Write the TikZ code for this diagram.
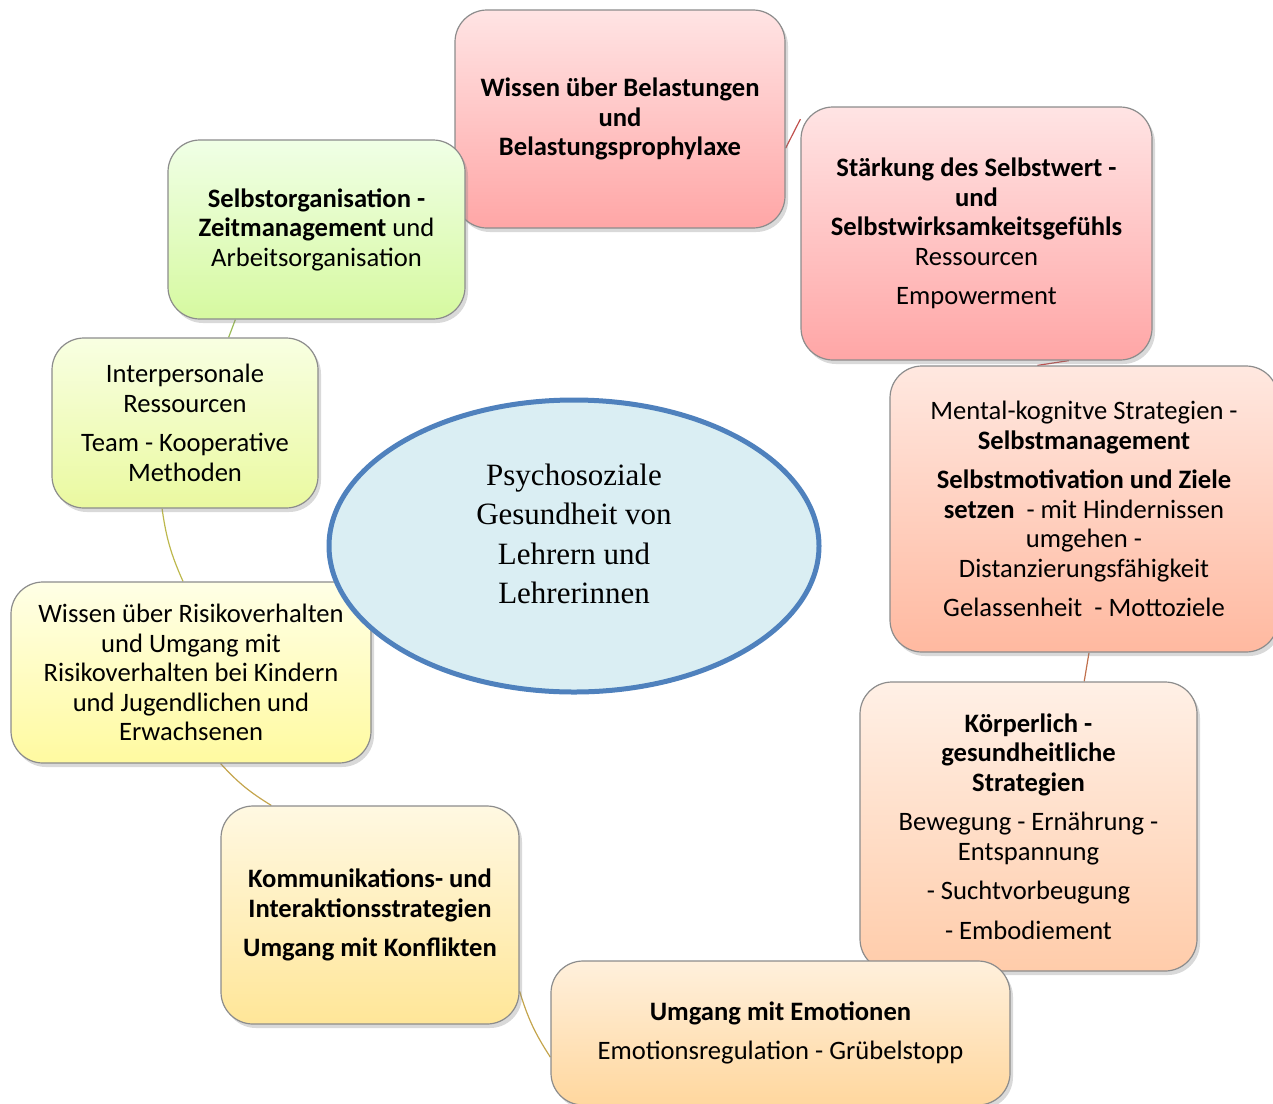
\documentclass[tikz,border=0pt]{standalone}
\usepackage{fontspec}
\setmainfont{Carlito}
\newfontfamily\centrefont{Liberation Serif}
\usetikzlibrary{positioning, shapes.geometric, shadows, backgrounds}

\definecolor{boxline}{HTML}{8C8C8C}
\definecolor{pinktop}{HTML}{FFE4E4}
\definecolor{pinkbot}{HTML}{FFA6A6}
\definecolor{salmtop}{HTML}{FFE8E0}
\definecolor{salmbot}{HTML}{FFB9A0}
\definecolor{peachtop}{HTML}{FFF0E6}
\definecolor{peachbot}{HTML}{FFCCAA}
\definecolor{oratop}{HTML}{FFF0DC}
\definecolor{orabot}{HTML}{FFD79E}
\definecolor{goldtop}{HTML}{FFF8E2}
\definecolor{goldbot}{HTML}{FFE698}
\definecolor{yeltop}{HTML}{FFFFE6}
\definecolor{yelbot}{HTML}{FFFAA0}
\definecolor{limetop}{HTML}{F8FFE2}
\definecolor{limebot}{HTML}{EAF9A0}
\definecolor{greentop}{HTML}{F0FFE6}
\definecolor{greenbot}{HTML}{D6F9A0}
\definecolor{ellfill}{HTML}{DAEEF3}
\definecolor{ellline}{HTML}{4F81BD}
\definecolor{linkgreen}{HTML}{9BBB59}
\definecolor{linkred}{HTML}{C0504D}
\definecolor{linkbrown}{HTML}{C0704D}
\definecolor{linkgold}{HTML}{C4A54D}
\definecolor{linkolive}{HTML}{BDB84D}

\begin{document}
\begin{tikzpicture}[x=0.5pt, y=-0.5pt,
	topic/.style={draw=boxline, line width=0.6pt, rounded corners=16pt, align=center, inner sep=4pt,
		font=\fontsize{13.3}{14.75}\selectfont,
		drop shadow={shadow xshift=1.5pt, shadow yshift=-2pt, opacity=0.3}},
	link/.style={line width=0.6pt}]
			\useasboundingbox (0,0) rectangle (1273,1103);

			\node[topic, top color=pinktop, bottom color=pinkbot, minimum width=165pt, minimum height=109pt]  (belast)  at (620,119)
				{\textbf{Wissen über Belastungen}\\\textbf{und}\\\textbf{Belastungsprophylaxe}};
			\node[topic, top color=pinktop, bottom color=pinkbot, minimum width=175.5pt, minimum height=126.5pt]  (selbstwert)  at (976.5,233.5)
				{\textbf{Stärkung des Selbstwert -}\\\textbf{und}\\\textbf{Selbstwirksamkeitsgefühls}\\Ressourcen\\[5pt]Empowerment};
			\node[topic, top color=salmtop, bottom color=salmbot, minimum width=194pt, minimum height=143pt]  (mental)  at (1084,509)
				{Mental-kognitve Strategien -\\\textbf{Selbstmanagement}\\[5pt]\textbf{Selbstmotivation und Ziele}\\\textbf{setzen}\ \ - mit Hindernissen\\umgehen -\\Distanzierungsfähigkeit\\[5pt]Gelassenheit\ \ - Mottoziele};
			\node[topic, top color=peachtop, bottom color=peachbot, minimum width=168.5pt, minimum height=144.5pt]  (koerper)  at (1028.5,826.5)
				{\textbf{Körperlich -}\\\textbf{gesundheitliche}\\\textbf{Strategien}\\[5pt]Bewegung - Ernährung -\\Entspannung\\[5pt]- Suchtvorbeugung\\[5pt]- Embodiement};
			\node[topic, top color=oratop, bottom color=orabot, minimum width=229.5pt, minimum height=72pt]  (emotion)  at (780.5,1033)
				{\textbf{Umgang mit Emotionen}\\[5pt]Emotionsregulation - Grübelstopp};
			\node[topic, top color=goldtop, bottom color=goldbot, minimum width=149pt, minimum height=109pt]  (kommu)  at (370,915)
				{\textbf{Kommunikations- und}\\\textbf{Interaktionsstrategien}\\[5pt]\textbf{Umgang mit Konflikten}};
			\node[topic, top color=yeltop, bottom color=yelbot, minimum width=180pt, minimum height=90.5pt]  (risiko)  at (191,672.5)
				{Wissen über Risikoverhalten\\und Umgang mit\\Risikoverhalten bei Kindern\\und Jugendlichen und\\Erwachsenen};
			\node[topic, top color=limetop, bottom color=limebot, minimum width=133pt, minimum height=85pt]  (interpers)  at (185,423)
				{Interpersonale\\Ressourcen\\[5pt]Team - Kooperative\\Methoden};
			\node[topic, top color=greentop, bottom color=greenbot, minimum width=148.5pt, minimum height=89.5pt]  (selbstorg)  at (316.5,229.5)
				{\textbf{Selbstorganisation -}\\\textbf{Zeitmanagement} und\\Arbeitsorganisation};

			\node[ellipse, draw=ellline, line width=2.5pt, fill=ellfill, minimum width=245pt, minimum height=146pt]  (centre)  at (574,546) {};
			\node[align=center, font=\centrefont\fontsize{15.5}{19.7}\selectfont]  (centretext)  at (574,534)
				{Psychosoziale\\Gesundheit von\\Lehrern und\\Lehrerinnen};

			\begin{scope}[on background layer]
				\draw[link, linkgreen] (selbstorg.30) -- (belast.-170) ;
				\draw[link, linkred] (belast.-10) -- (selbstwert.147) ;
				\draw[link, linkred] (selbstwert.-54.4) -- (mental.108.9) ;
				\draw[link, linkbrown] (mental.-88.8) -- (koerper.69.7) ;
				\draw[link, linkgold] (emotion.-174) to[bend left=8] (kommu.-27.6) ;
				\draw[link, linkgold] (kommu.132.2) to[bend left=8] (risiko.-72.2) ;
				\draw[link, linkolive] (risiko.95) to[bend left=8] (interpers.-105.8) ;
				\draw[link, linkgreen] (interpers.63.7) -- (selbstorg.-132.7) ;
			\end{scope}
		\end{tikzpicture}
\end{document}
